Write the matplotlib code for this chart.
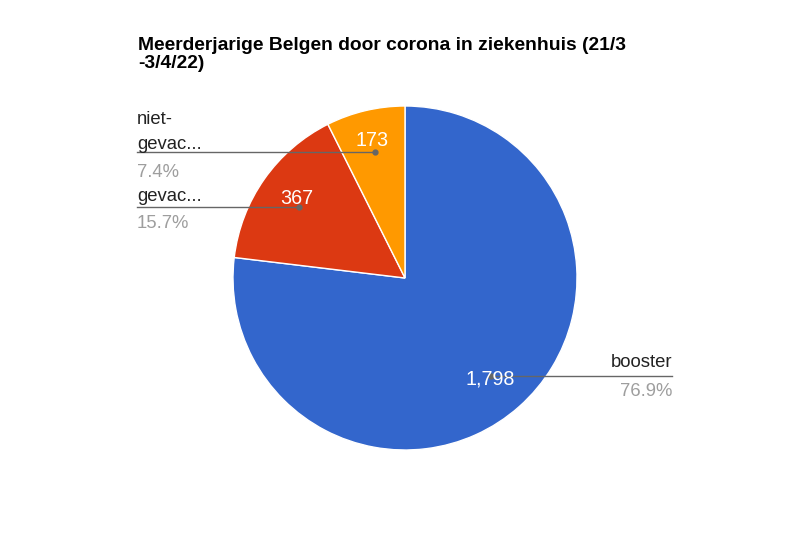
import numpy as np
import matplotlib.pyplot as plt

plt.rcParams['font.family'] = ['Liberation Sans', 'DejaVu Sans']

# Data
categorieen = ['booster', 'gevac...', 'niet-\ngevac...']
aantallen = [1798, 367, 173]
kleuren = ['#3366cc', '#dc3912', '#ff9900']
titel = ['Meerderjarige Belgen door corona in ziekenhuis (21/3', '-3/4/22)']

W, H = 800, 542
fig = plt.figure(figsize=(W / 100, H / 100), dpi=100)
ax = fig.add_axes([0, 0, 1, 1])

# taart in pixelcoordinaten (y omhoog)
cx, cy, r = 405, H - 278, 172
wedges, _ = ax.pie(aantallen, colors=kleuren, startangle=90, counterclock=False,
                   center=(cx, cy), radius=r, frame=True,
                   wedgeprops=dict(edgecolor='white', linewidth=1.0))
ax.set_xlim(0, W)
ax.set_ylim(0, H)
ax.axis('off')
ax.set_aspect('equal')

totaal = sum(aantallen)
pcts = [v / totaal * 100 for v in aantallen]

# middenhoek van elk stuk (met de klok mee vanaf boven)
cum = np.cumsum([0] + pcts[:-1])
mid = [(c + p / 2) / 100 * 2 * np.pi for c, p in zip(cum, pcts)]
dots = [(cx + 0.75 * r * np.sin(a), cy + 0.75 * r * np.cos(a)) for a in mid]

fs = 13.3
fs_val = 14.2
grijs = '#9e9e9e'
lijn = '#666666'
zwart = '#222222'


def leader(x0, x1, y):
    ax.plot([x0, x1], [y, y], color=lijn, lw=1.0, zorder=3)


# booster (rechts)
dx, dy = dots[0]
dy -= 1
leader(dx, 672, dy)
ax.plot(dx, dy, 'o', color=lijn, ms=3.5, zorder=3)
ax.text(dx, dy - 3, f'{aantallen[0]:,}', color='white', fontsize=fs_val,
        ha='center', va='center', zorder=4)
ax.text(672, dy + 13, categorieen[0], ha='right', va='center', fontsize=fs, color=zwart)
ax.text(672, dy - 16, f'{pcts[0]:.1f}%', ha='right', va='center', fontsize=fs, color=grijs)

# gevac (links)
dx, dy = dots[1]
dy -= 3
leader(137, dx, dy)
ax.plot(dx, dy, 'o', color=lijn, ms=3.5, zorder=3)
ax.text(dx - 3, dy + 8, f'{aantallen[1]:,}', color='white', fontsize=fs_val,
        ha='center', va='center', zorder=4)
ax.text(137, dy + 10, categorieen[1], ha='left', va='center', fontsize=fs, color=zwart)
ax.text(137, dy - 17, f'{pcts[1]:.1f}%', ha='left', va='center', fontsize=fs, color=grijs)

# niet-gevac (links)
dx, dy = dots[2]
leader(137, dx, dy)
ax.plot(dx, dy, 'o', color=lijn, ms=3.5, zorder=3)
ax.text(dx - 3, dy + 12, f'{aantallen[2]:,}', color='white', fontsize=fs_val,
        ha='center', va='center', zorder=4)
regels = categorieen[2].split('\n')
ax.text(137, dy + 33, regels[0], ha='left', va='center', fontsize=fs, color=zwart)
ax.text(137, dy + 8, regels[1], ha='left', va='center', fontsize=fs, color=zwart)
ax.text(137, dy - 20, f'{pcts[2]:.1f}%', ha='left', va='center', fontsize=fs, color=grijs)

# titel
ax.text(138, H - 45, titel[0], ha='left', va='center', fontsize=13.9,
        fontweight='bold', color='#000000')
ax.text(138, H - 63, titel[1], ha='left', va='center', fontsize=13.9,
        fontweight='bold', color='#000000')

fig.savefig('out.png', dpi=100)
